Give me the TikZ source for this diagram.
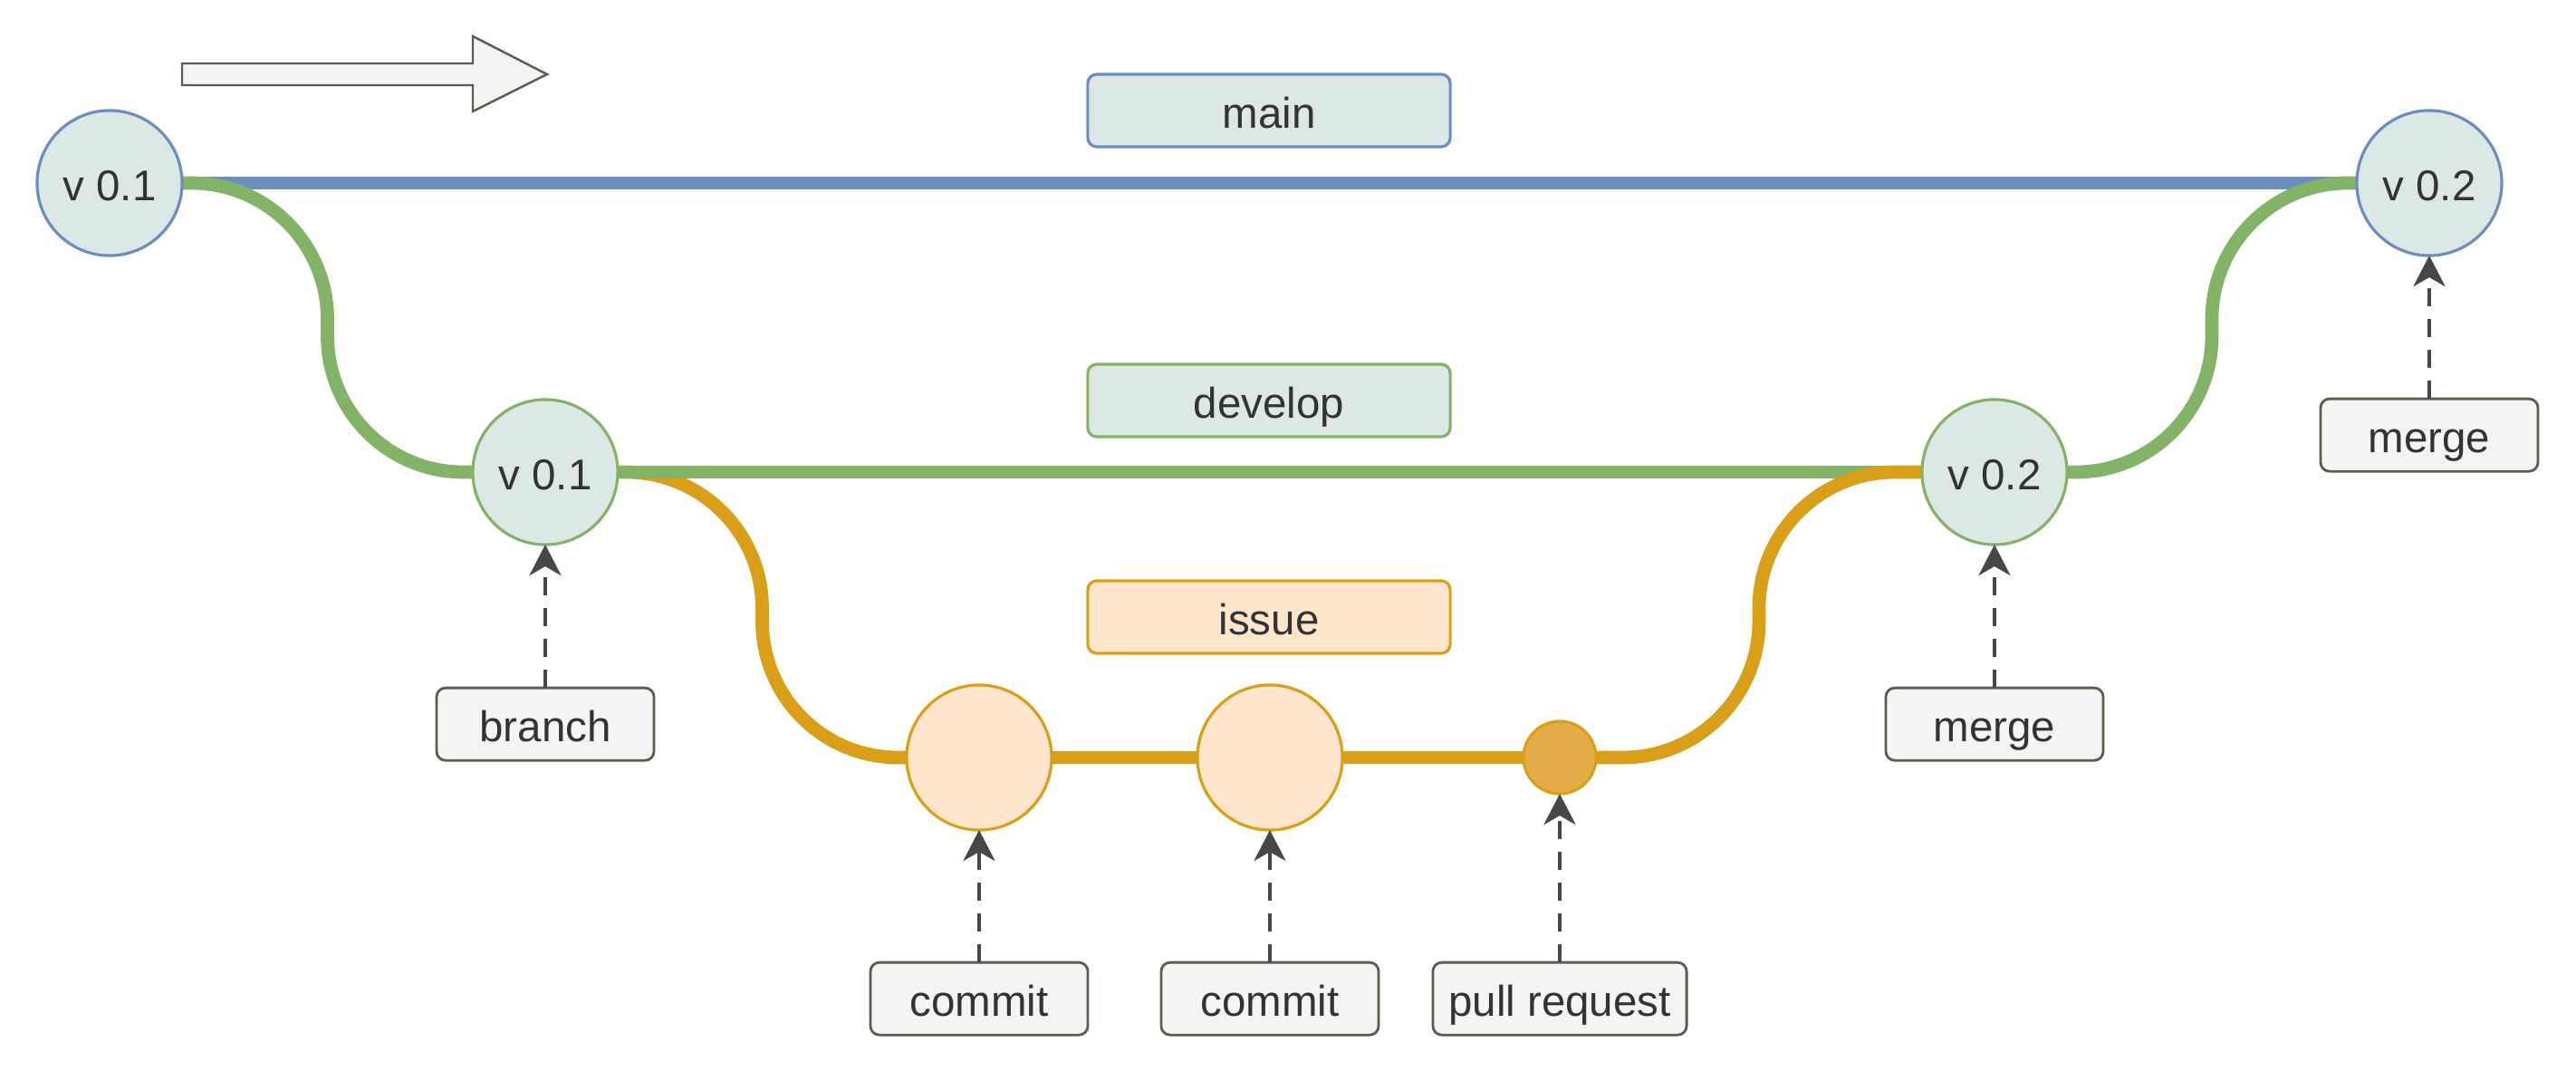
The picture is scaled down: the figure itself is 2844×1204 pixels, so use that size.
\documentclass[tikz,border=0pt]{standalone}
\usepackage{fontspec}
\setmainfont{Liberation Sans}
\usetikzlibrary{arrows.meta,positioning,calc,backgrounds}
\definecolor{mainline}{HTML}{6C8EBF}
\definecolor{devline}{HTML}{82B366}
\definecolor{issueline}{HTML}{DA9F18}
\definecolor{verfill}{HTML}{DBE8E6}
\definecolor{issuefill}{HTML}{FFE6CC}
\definecolor{prfill}{HTML}{E3AC48}
\definecolor{notefill}{HTML}{F4F4F4}
\definecolor{notedraw}{HTML}{56604F}
\definecolor{ink}{HTML}{333333}
\tikzset{
  base/.style={font=\fontsize{13.5}{16}\selectfont, text=ink, align=center, text height=14pt, text depth=3pt, inner sep=2pt, outer sep=0mm},
  ver/.style={circle, line width=0.9pt, fill=verfill, minimum size=16mm, base},
  commitdot/.style={circle, draw=issueline, line width=0.9pt, fill=issuefill, minimum size=16mm, base},
  prdot/.style={circle, draw=issueline, line width=0.9pt, fill=prfill, minimum size=8mm, base},
  tag/.style={rectangle, rounded corners=1mm, line width=0.9pt, fill=verfill, minimum width=40mm, minimum height=8mm, base},
  note/.style={rectangle, rounded corners=1mm, draw=notedraw, line width=0.8pt, fill=notefill, minimum width=24mm, minimum height=8mm, base},
  flow/.style={line width=4.2pt, rounded corners=15mm},
  pointer/.style={-{Stealth[length=3.4mm, width=3.5mm, inset=1mm]}, dash pattern=on 2mm off 1.4mm, line width=1.1pt, color=ink!90},
  bigarrow/.style={draw=notedraw, fill=notefill, line width=0.7pt}
}

\begin{document}
\begin{tikzpicture}[x=0.01cm, y=-0.01cm]
    \useasboundingbox (0,0) rectangle (2844,1204);

    % direction of time
    \draw[bigarrow] (201,70) -- (522,70) -- (522,40) -- (604,82) -- (522,123) -- (522,94) -- (201,94) -- cycle;

    % branch names
    \node[tag, draw=mainline] (tmain) at (1401,122) {main};
    \node[tag, draw=devline] (tdev) at (1401,442) {develop};
    \node[tag, draw=issueline, fill=issuefill] (tissue) at (1401,681) {issue};

    % versions and commits
    \node[ver, draw=mainline] (m1) at (121,202) {v 0.1};
    \node[ver, draw=mainline] (m2) at (2682,202) {v 0.2};
    \node[ver, draw=devline] (d1) at (602,521) {v 0.1};
    \node[ver, draw=devline] (d2) at (2202,521) {v 0.2};
    \node[commitdot] (c1) at (1081,836) {};
    \node[commitdot] (c2) at (1402,836) {};
    \node[prdot] (pr) at (1722,836) {};

    % notes
    \node[note, below=15.8mm of d1] (nbranch) {branch};
    \node[note, below=15.8mm of d2] (nmerge) {merge};
    \node[note, below=15.8mm of m2] (nmergemain) {merge};
    \node[note, below=14.6mm of c1] (ncommit) {commit};
    \node[note, below=14.6mm of c2] (ncommitb) {commit};
    \node[note, minimum width=28mm, below=18.6mm of pr] (npr) {pull request};

    % bends
    \coordinate (k1) at ($(m1.east)!0.5!(d1.west)$);
    \coordinate (k2) at ($(d2.east)!0.5!(m2.west)$);
    \coordinate (k3) at ($(d1.east)!0.5!(c1.west)$);
    \coordinate (k4) at ($(pr.east)!0.5!(d2.west)$);

    \begin{scope}[on background layer]
      \draw[flow, mainline] (m1) -- (m2);
      \draw[flow, issueline] (d1.east) -| (k3 |- c1.west) -- (c1.west);
      \draw[flow, devline] (d1) -- (d2);
      \draw[flow, devline] (m1.east) -| (k1 |- d1.west) -- (d1.west);
      \draw[flow, devline] (d2.east) -| (k2 |- m2.west) -- (m2.west);
      \draw[flow, issueline] (c1) -- (c2);
      \draw[flow, issueline] (c2) -- (pr);
      \draw[flow, issueline] (pr.east) -| (k4 |- d2.west) -- (d2.west);
    \end{scope}

    \draw[pointer] (nbranch) -- (d1);
    \draw[pointer] (nmerge) -- (d2);
    \draw[pointer] (nmergemain) -- (m2);
    \draw[pointer] (ncommit) -- (c1);
    \draw[pointer] (ncommitb) -- (c2);
    \draw[pointer] (npr) -- (pr);
\end{tikzpicture}
\end{document}
